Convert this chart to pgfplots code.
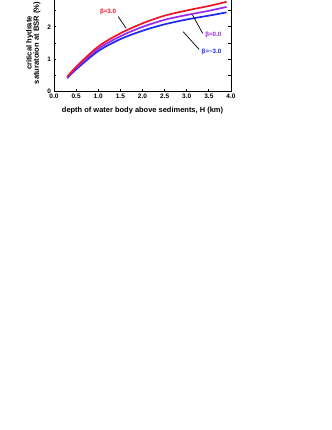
\documentclass[border=0pt]{standalone}
\usepackage{pgfplots}
\pgfplotsset{compat=1.18}
\usepackage{fontspec}
\setmainfont{Liberation Sans}
\definecolor{cred}{RGB}{240,20,40}
\definecolor{cpur}{RGB}{150,40,240}
\definecolor{cblue}{RGB}{30,40,240}
\begin{document}
\begin{tikzpicture}
\begin{axis}[
  at={(54bp,-91.3bp)}, anchor=south west,
  scale only axis, width=177bp, height=96.6bp,
  xmin=0, xmax=4, ymin=0, ymax=3,
  xtick={0,0.5,...,4}, ytick={0,0.5,...,3},
  yticklabels={0,,1,,2,,},
  xticklabel style={/pgf/number format/.cd,fixed,fixed zerofill,precision=1},
  tick label style={font=\bfseries\fontsize{6.5}{7}\selectfont},
  /pgf/number format/assume math mode=true,
  tick align=inside, major tick length=2.5bp,
  axis line style={line width=0.9bp}, tick style={line width=0.8bp,black},
  xlabel={depth of water body above sediments, H (km)},
  xlabel style={font=\bfseries\fontsize{7.5}{8}\selectfont, at={(axis description cs:0.5,-0.195)}, anchor=center},
  ylabel={critical hydrate\\saturatoion at BSR (\%)},
  ylabel style={font=\bfseries\fontsize{7.6}{7.3}\selectfont, align=center, at={(axis description cs:-0.117,0.5)}, anchor=center},
  xticklabel shift=-0.5bp, yticklabel shift=-0.5bp,
]
\addplot[cblue, line width=1.7bp, smooth] coordinates {(0.3,0.41) (0.5,0.68) (1.0,1.25) (1.5,1.62) (2.0,1.88) (2.5,2.08) (3.0,2.23) (3.5,2.35) (3.9,2.45)};
\addplot[cpur, line width=1.7bp, smooth] coordinates {(0.3,0.43) (0.5,0.72) (1.0,1.32) (1.5,1.71) (2.0,2.00) (2.5,2.22) (3.0,2.37) (3.5,2.50) (3.9,2.62)};
\addplot[cred, line width=1.7bp, smooth] coordinates {(0.3,0.45) (0.5,0.76) (1.0,1.39) (1.5,1.80) (2.0,2.11) (2.5,2.35) (3.0,2.51) (3.5,2.65) (3.9,2.78)};
\draw[black, line width=0.7bp] (axis cs:1.45,2.32) -- (axis cs:1.63,1.96);
\draw[black, line width=0.7bp] (axis cs:3.36,1.80) -- (axis cs:3.13,2.37);
\draw[black, line width=0.7bp] (axis cs:3.28,1.30) -- (axis cs:2.92,1.85);
\node[cred, font=\bfseries\fontsize{6.2}{7}\selectfont] at (axis cs:1.22,2.47) {β=3.0};
\node[cpur, font=\bfseries\fontsize{6.2}{7}\selectfont] at (axis cs:3.6,1.75) {β=0.0};
\node[cblue, font=\bfseries\fontsize{6.2}{7}\selectfont] at (axis cs:3.56,1.23) {β=−3.0};
\end{axis}
\pgfresetboundingbox
\useasboundingbox (0bp,0bp) rectangle (332bp,-430bp);
\end{tikzpicture}
\end{document}
